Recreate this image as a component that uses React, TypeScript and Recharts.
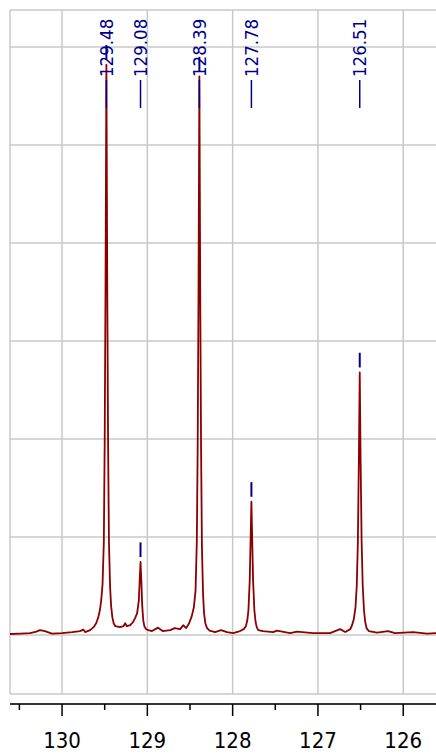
import { LineChart, Line, XAxis, YAxis, CartesianGrid, ReferenceLine, ReferenceDot } from 'recharts';

// 13C spectrum trace, [ppm, intensity]
const spectrum: [number, number][] = [
  [130.61, 0.01], [130.49, 0.015], [130.375, 0.02], [130.3, 0.035], [130.26, 0.05],
  [130.2, 0.04], [130.12, 0.015], [130.0, 0.02], [129.88, 0.03], [129.79, 0.04],
  [129.75, 0.055], [129.73, 0.03], [129.67, 0.05], [129.63, 0.08], [129.6, 0.12],
  [129.575, 0.18], [129.555, 0.26], [129.54, 0.36], [129.525, 0.52], [129.51, 0.95],
  [129.5, 1.95], [129.49, 3.6], [129.48, 5.82], [129.47, 3.6], [129.46, 1.95],
  [129.45, 0.95], [129.437, 0.5], [129.425, 0.3], [129.41, 0.18], [129.395, 0.12],
  [129.375, 0.09], [129.32, 0.08], [129.28, 0.09], [129.26, 0.12], [129.24, 0.09],
  [129.2, 0.1], [129.17, 0.13], [129.145, 0.17], [129.12, 0.22], [129.1, 0.35],
  [129.09, 0.55], [129.08, 0.745], [129.07, 0.55], [129.06, 0.3], [129.048, 0.15],
  [129.035, 0.09], [129.015, 0.06], [128.99, 0.05], [128.945, 0.04], [128.875, 0.075],
  [128.82, 0.04], [128.73, 0.05], [128.68, 0.07], [128.615, 0.06], [128.58, 0.1],
  [128.545, 0.07], [128.51, 0.12], [128.48, 0.19], [128.455, 0.28], [128.435, 0.45],
  [128.42, 0.95], [128.41, 1.9], [128.4, 3.5], [128.39, 5.7], [128.38, 3.5],
  [128.37, 1.9], [128.36, 0.9], [128.347, 0.42], [128.335, 0.22], [128.32, 0.12],
  [128.3, 0.07], [128.27, 0.045], [128.206, 0.03], [128.136, 0.05], [128.066, 0.03],
  [127.995, 0.02], [127.913, 0.04], [127.87, 0.06], [127.845, 0.09], [127.828, 0.15],
  [127.815, 0.25], [127.8, 0.55], [127.79, 0.95], [127.78, 1.36], [127.77, 0.95],
  [127.76, 0.55], [127.745, 0.25], [127.732, 0.14], [127.718, 0.08], [127.7, 0.05],
  [127.644, 0.04], [127.526, 0.03], [127.48, 0.045], [127.327, 0.02], [127.245, 0.035],
  [127.057, 0.02], [126.858, 0.02], [126.74, 0.06], [126.68, 0.03], [126.62, 0.06],
  [126.6, 0.1], [126.58, 0.16], [126.56, 0.28], [126.545, 0.5], [126.532, 0.95],
  [126.52, 1.8], [126.51, 2.68], [126.5, 1.8], [126.488, 0.95], [126.475, 0.5],
  [126.46, 0.25], [126.445, 0.13], [126.43, 0.07], [126.405, 0.04], [126.307, 0.025],
  [126.178, 0.04], [126.096, 0.02], [125.885, 0.03], [125.72, 0.015], [125.61, 0.02],
];

const peakShifts = [129.48, 129.08, 128.39, 127.78, 126.51];
const peakTops = [5.82, 0.745, 5.7, 1.36, 2.68];

const majorTicks = [130, 129, 128, 127, 126];
const minorTicks = [130.5, 129.5, 128.5, 127.5, 126.5];
const gridRows = [0, 1, 2, 3, 4, 5, 6];

const X_MIN = 125.616;
const X_MAX = 130.61;
const Y_MIN = -0.7041;
const Y_MAX = 6.3776;
const FRAME_BOTTOM = -0.602;

const LABEL_Y = 5.694;
const LEADER_TOP = 5.663;
const LEADER_BOTTOM = 5.378;

const GRID = '#c8c8c8';
const NAVY = '#00008b';

const chartData = spectrum.map(([ppm, intensity]) => ({ ppm, intensity }));
const allTicks = [...majorTicks, ...minorTicks].sort((a, b) => b - a);

const PpmTick = ({ x, y, payload }: any) => {
  const major = majorTicks.includes(payload.value);
  return (
    <g>
      <line x1={x} x2={x} y1={y} y2={y + (major ? 12 : 6)} stroke="#000" strokeWidth={1.5} />
      {major && (
        <text x={x} y={y + 44} textAnchor="middle" fontSize={22} fill="#000">
          {payload.value}
        </text>
      )}
    </g>
  );
};

const PeakLabel = ({ cx, cy, text }: any) => (
  <text
    x={cx}
    y={cy}
    transform={`rotate(-90 ${cx} ${cy})`}
    dominantBaseline="central"
    fontSize={18.5}
    fill={NAVY}
  >
    {text}
  </text>
);

export default function App() {
  return (
    <div
      style={{
        position: 'absolute',
        left: 0,
        top: 0,
        width: 436,
        height: 754,
        background: '#fff',
        fontFamily: "'DejaVu Sans Condensed', 'DejaVu Sans', sans-serif",
      }}
    >
      <LineChart width={436} height={754} data={chartData} margin={{ top: 10, right: 0, left: 10, bottom: 0 }}>
        <CartesianGrid vertical={false} stroke={GRID} strokeWidth={1.5} />
        <XAxis
          dataKey="ppm"
          type="number"
          domain={[X_MIN, X_MAX]}
          reversed
          allowDataOverflow
          ticks={allTicks}
          interval={0}
          tickSize={0}
          tickMargin={0}
          tick={<PpmTick />}
          axisLine={{ stroke: '#000', strokeWidth: 1.5 }}
          height={50}
        />
        <YAxis
          hide
          type="number"
          domain={[Y_MIN, Y_MAX]}
          allowDataOverflow
          ticks={[FRAME_BOTTOM, ...gridRows, Y_MAX]}
        />
        {[X_MAX, ...majorTicks].map((v) => (
          <ReferenceLine
            key={`v${v}`}
            segment={[{ x: v, y: FRAME_BOTTOM }, { x: v, y: Y_MAX }]}
            stroke={GRID}
            strokeWidth={1.5}
            ifOverflow="visible"
          />
        ))}
        <Line
          type="linear"
          dataKey="intensity"
          stroke="#8b0000"
          strokeWidth={1.8}
          strokeLinejoin="round"
          dot={false}
          isAnimationActive={false}
        />
        {peakShifts.map((p, i) => (
          <ReferenceLine
            key={`m${p}`}
            segment={[{ x: p, y: peakTops[i] + 0.05 }, { x: p, y: peakTops[i] + 0.2 }]}
            stroke={NAVY}
            strokeWidth={2}
            ifOverflow="visible"
          />
        ))}
        {peakShifts.map((p) => (
          <ReferenceLine
            key={`l${p}`}
            segment={[{ x: p, y: LEADER_BOTTOM }, { x: p, y: LEADER_TOP }]}
            stroke={NAVY}
            strokeWidth={1.5}
            ifOverflow="visible"
          />
        ))}
        {peakShifts.map((p) => (
          <ReferenceDot
            key={`t${p}`}
            x={p}
            y={LABEL_Y}
            r={0}
            ifOverflow="visible"
            shape={(props: any) => <PeakLabel {...props} text={p.toFixed(2)} />}
          />
        ))}
      </LineChart>
    </div>
  );
}
